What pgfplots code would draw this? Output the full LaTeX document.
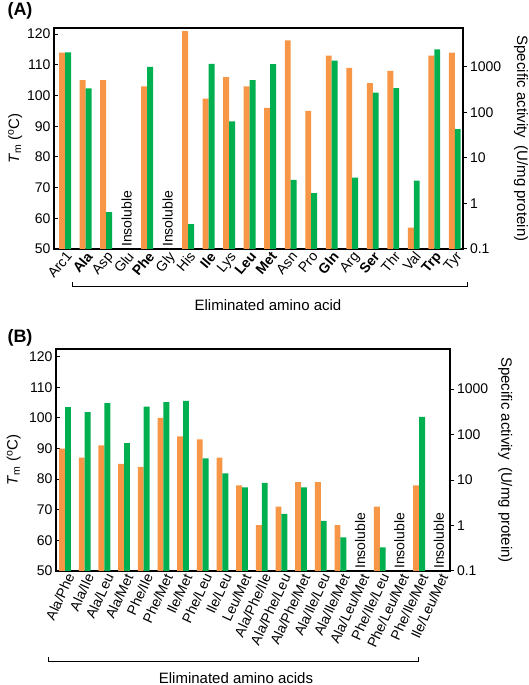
\documentclass[border=0pt]{standalone}
\usepackage{pgfplots}
\pgfplotsset{compat=1.18}
\usepackage{fontspec}
\setmainfont{Liberation Sans}

\definecolor{tmorange}{HTML}{F79646}
\definecolor{actgreen}{HTML}{00B050}

\newcommand{\tickfont}{\fontsize{14}{16}\selectfont}
\newcommand{\labfont}{\fontsize{15}{17}\selectfont}

\pgfplotsset{
  tmaxis/.style={
    scale only axis, anchor=south west,
    ymin=50, ymax=122, ytick={50,60,...,120},
    ytick pos=left, tick align=inside, major tick length=3.5pt,
    xtick={0,...,19}, xtick style={draw=none},
    axis line style={line width=1.2pt},
    ytick style={line width=1pt, black},
    tick label style={font=\tickfont},
    /pgf/number format/assume math mode=true,
    ylabel={\textit{T}\textsubscript{m} (\textsuperscript{o}C)},
    label style={font=\labfont},
  },
  actaxis/.style={
    scale only axis, anchor=south west,
    axis x line=none, axis y line*=right,
    ytick={0.1,1,10,100,1000}, yticklabels={0.1,1,10,100,1000},
    yminorticks=false, tick align=outside, major tick length=3.5pt,
    axis line style={line width=1.2pt},
    ytick style={line width=1pt, black},
    tick label style={font=\tickfont},
    ylabel={Specific activity\enspace(U/mg protein)},
    label style={font=\labfont},
  },
  orangebar/.style={ybar, fill=tmorange, draw=none},
  greenbar/.style={ybar, fill=actgreen, draw=none},
}

\begin{document}
\begin{tikzpicture}[x=1pt,y=1pt]
\useasboundingbox (0,0) rectangle (528,685);

% ---------------- panel A ----------------
\node[font=\bfseries\fontsize{18}{20}\selectfont] at (20,674) {(A)};

\begin{axis}[tmaxis, at={(54pt,436pt)}, width=409pt, height=221pt,
    xmin=-0.54, xmax=19.4,
    xticklabels={Arc1,\textbf{Ala},Asp,Glu,\textbf{Phe},Gly,His,\textbf{Ile},Lys,\textbf{Leu},
      \textbf{Met},Asn,Pro,\textbf{Gln},Arg,\textbf{Ser},Thr,Val,\textbf{Trp},Tyr},
    xticklabel style={rotate=50, anchor=north east, inner sep=1pt},
    ylabel style={at={(axis description cs:-0.095,0.5)}, anchor=center},
  ]
  % Tm (left axis)
  \addplot[orangebar, bar width=0.29, bar shift=-0.145] coordinates {
    (0,114) (1,105) (2,105) (4,103) (6,121) (7,99) (8,106) (9,103) (10,96)
    (11,118) (12,95) (13,113) (14,109) (15,104) (16,108) (17,57) (18,113) (19,114)
  };
  \node[rotate=90, anchor=west, font=\fontsize{14}{16}\selectfont, inner sep=2pt] at (axis cs:3,50) {Insoluble};
  \node[rotate=90, anchor=west, font=\fontsize{14}{16}\selectfont, inner sep=2pt] at (axis cs:5,50) {Insoluble};
\end{axis}

\begin{axis}[actaxis, ymode=log, log origin=infty, ymin=0.1, ymax=7200,
    at={(54pt,436pt)}, width=409pt, height=221pt,
    xmin=-0.54, xmax=19.4,
    ylabel style={at={(axis description cs:1.142,0.5)}, anchor=center, rotate=180},
  ]
  % specific activity (right axis)
  \addplot[greenbar, bar width=0.29, bar shift=0.145] coordinates {
    (0,2100) (1,340) (2,0.65) (4,1000) (6,0.35) (7,1170) (8,64) (9,515) (10,1150)
    (11,3.3) (12,1.7) (13,1380) (14,3.7) (15,272) (16,345) (17,3.2) (18,2450) (19,43)
  };
\end{axis}

\draw[line width=1pt] (72,403) -- (72,398) -- (467,398) -- (467,403);
\node[font=\labfont] at (268,380) {Eliminated amino acid};

% ---------------- panel B ----------------
\node[font=\bfseries\fontsize{18}{20}\selectfont] at (20,347) {(B)};

\begin{axis}[tmaxis, at={(56pt,114pt)}, width=394pt, height=222pt,
    xmin=-0.46, xmax=19.57, ymax=122.5,
    xticklabels={Ala/Phe,Ala/Ile,Ala/Leu,Ala/Met,Phe/Ile,Phe/Met,Ile/Met,Phe/Leu,Ile/Leu,Leu/Met,
      Ala/Phe/Ile,Ala/Phe/Leu,Ala/Phe/Met,Ala/Ile/Leu,Ala/Ile/Met,Ala/Leu/Met,Phe/Ile/Leu,
      Phe/Leu/Met,Phe/Ile/Met,Ile/Leu/Met},
    xticklabel style={rotate=65, anchor=north east, inner sep=1pt},
    ylabel style={at={(axis description cs:-0.107,0.5)}, anchor=center},
  ]
  \addplot[orangebar, bar width=0.3, bar shift=-0.15] coordinates {
    (0,90) (1,87) (2,91) (3,85) (4,84) (5,100) (6,94) (7,93) (8,87) (9,78)
    (10,65) (11,71) (12,79) (13,79) (14,65) (16,71) (18,78)
  };
  \node[rotate=90, anchor=west, font=\fontsize{14}{16}\selectfont, inner sep=2pt] at (axis cs:15,50) {Insoluble};
  \node[rotate=90, anchor=west, font=\fontsize{14}{16}\selectfont, inner sep=2pt] at (axis cs:17,50) {Insoluble};
  \node[rotate=90, anchor=west, font=\fontsize{14}{16}\selectfont, inner sep=2pt] at (axis cs:19,50) {Insoluble};
\end{axis}

\begin{axis}[actaxis, ymode=log, log origin=infty, ymin=0.1, ymax=7600,
    at={(56pt,114pt)}, width=394pt, height=222pt,
    xmin=-0.46, xmax=19.57,
    ylabel style={at={(axis description cs:1.14,0.5)}, anchor=center, rotate=180},
  ]
  \addplot[greenbar, bar width=0.3, bar shift=0.15] coordinates {
    (0,400) (1,310) (2,490) (3,65) (4,410) (5,515) (6,550) (7,30) (8,14) (9,6.9)
    (10,8.7) (11,1.8) (12,6.9) (13,1.26) (14,0.55) (16,0.33) (18,245)
  };
\end{axis}

\draw[line width=1pt] (48,28) -- (48,23) -- (418,23) -- (418,28);
\node[font=\labfont] at (236,7) {Eliminated amino acids};
\end{tikzpicture}
\end{document}
